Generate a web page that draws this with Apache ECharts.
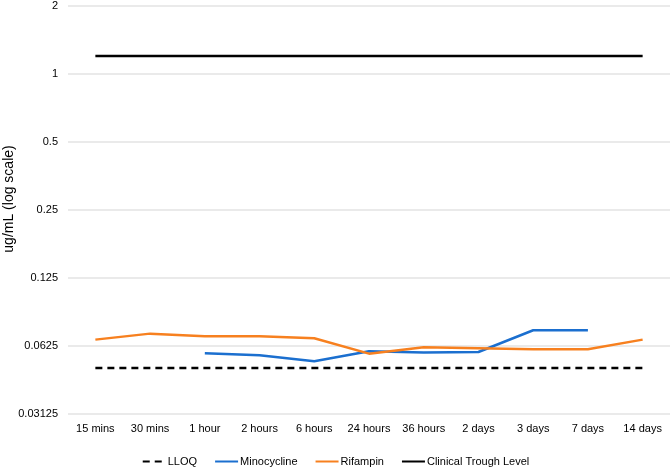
<!DOCTYPE html>
<html><head><meta charset="utf-8">
<script src="https://cdn.jsdelivr.net/npm/echarts@6/dist/echarts.min.js"></script>
<style>html,body{margin:0;padding:0;background:#fff}#c{width:671px;height:473px}</style>
</head><body><div id="c"></div>
<script>
const categories = ['15 mins','30 mins','1 hour','2 hours','6 hours','24 hours','36 hours','2 days','3 days','7 days','14 days'];
const lloq = [0.05,0.05,0.05,0.05,0.05,0.05,0.05,0.05,0.05,0.05,0.05];
const minocycline = [null,null,0.058,0.0569,0.0535,0.0592,0.0585,0.0588,0.0734,0.0734,null];
const rifampin = [0.0667,0.0709,0.069,0.069,0.0676,0.0578,0.0617,0.0611,0.0604,0.0604,0.0667];
const trough = [1.2,1.2,1.2,1.2,1.2,1.2,1.2,1.2,1.2,1.2,1.2];
const yTicks = [0.03125,0.0625,0.125,0.25,0.5,1,2];

const chart = echarts.init(document.getElementById('c'));
const font = 'Liberation Sans, Arial, sans-serif';
chart.setOption({
  animation:false,
  textStyle:{fontFamily:font},
  grid:{left:68,right:1,top:6,bottom:59,containLabel:false,outerBoundsMode:'none'},
  legend:{
    bottom:1,left:'center',itemWidth:23,itemHeight:3,itemGap:17,
    itemStyle:{opacity:0},
    textStyle:{fontSize:11,color:'#000',fontFamily:font,padding:[0,0,0,-3]},
    data:['LLOQ','Minocycline','Rifampin','Clinical Trough Level']
  },
  xAxis:{type:'category',data:categories,boundaryGap:true,
    axisLine:{show:false},axisTick:{show:false},
    axisLabel:{color:'#000',fontSize:11,margin:9,interval:0,fontFamily:font}},
  yAxis:{type:'log',logBase:2,min:0.03125,max:2,
    name:'ug/mL (log scale)',nameLocation:'middle',nameGap:52,nameRotate:90,nameMoveOverlap:false,
    nameTextStyle:{color:'#000',fontSize:14,fontFamily:font,padding:[0,0,0,22]},
    axisLine:{show:false},axisTick:{show:false},
    splitLine:{lineStyle:{color:'#e3e3e3',width:1.5}},
    axisLabel:{color:'#000',fontSize:11,margin:10,fontFamily:font,
      formatter:v=>{const t=yTicks.find(x=>Math.abs(x-v)/x<1e-6);return t!==undefined?String(t):String(+v.toPrecision(6));}}},
  series:[
    {name:'LLOQ',type:'line',data:lloq,symbol:'none',lineStyle:{color:'#000',width:2.5,type:[7,5]},itemStyle:{color:'#000'}},
    {name:'Minocycline',type:'line',data:minocycline,symbol:'none',lineStyle:{color:'#1B6FCF',width:2.5},itemStyle:{color:'#1B6FCF'}},
    {name:'Rifampin',type:'line',data:rifampin,symbol:'none',lineStyle:{color:'#F7801F',width:2.5},itemStyle:{color:'#F7801F'}},
    {name:'Clinical Trough Level',type:'line',data:trough,symbol:'none',lineStyle:{color:'#000',width:2.5},itemStyle:{color:'#000'}}
  ]
});
</script></body></html>
